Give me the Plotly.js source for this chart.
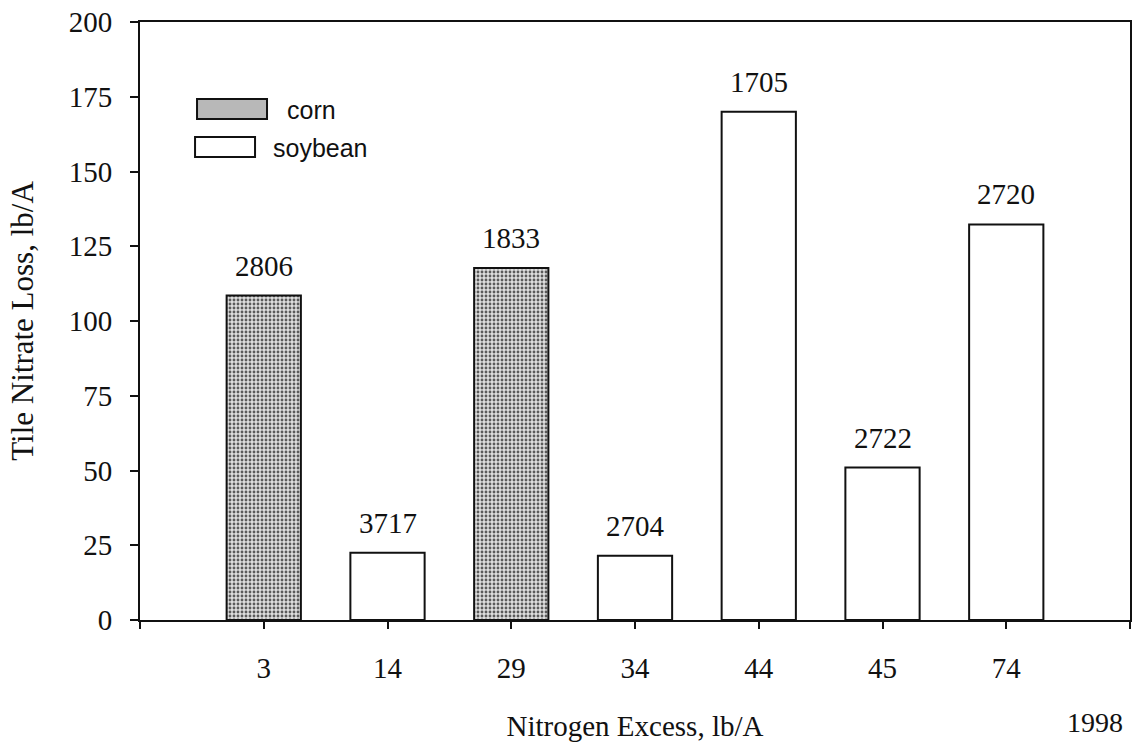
<!DOCTYPE html>
<html>
<head>
<meta charset="utf-8">
<script src="https://cdn.plot.ly/plotly-3.0.1.min.js"></script>
<style>
  html, body { margin: 0; padding: 0; background: #fff; }
  #chart { width: 1135px; height: 742px; }
</style>
</head>
<body>
<div id="chart"></div>
<script>
// Data
const categories = ['3', '14', '29', '34', '44', '45', '74'];
const crops = ['corn', 'soybean', 'corn', 'soybean', 'soybean', 'soybean', 'soybean'];
const nitrateLoss = [108.5, 22.5, 117.7, 21.5, 170, 51, 132.3];
const barLabels = ['2806', '3717', '1833', '2704', '1705', '2722', '2720'];
const seriesNames = ['corn', 'soybean'];
const yearLabel = '1998';

const positions = categories.map((_, i) => i);
const serif = 'Liberation Serif, Times New Roman, serif';
const sans = 'Liberation Sans, Arial, sans-serif';

const styles = {
  corn: {
    color: '#c8c8c8',
    line: { color: '#111', width: 2 },
    pattern: { shape: '.', fgcolor: '#5a5a5a', bgcolor: '#dedede', size: 4, solidity: 0.4 }
  },
  soybean: {
    color: '#ffffff',
    line: { color: '#111', width: 2 }
  }
};

const traces = seriesNames.map(name => {
  const idx = positions.filter(i => crops[i] === name);
  return {
    type: 'bar',
    name: name,
    x: idx,
    y: idx.map(i => nitrateLoss[i]),
    width: 0.6,
    marker: styles[name],
    showlegend: false,
    hoverinfo: 'x+y'
  };
});

const annotations = positions.map(i => ({
  x: i, y: nitrateLoss[i], xref: 'x', yref: 'y',
  text: barLabels[i], showarrow: false,
  yanchor: 'bottom', yshift: 12,
  font: { family: serif, size: 29, color: '#111' }
}));

// Legend text
annotations.push({
  xref: 'paper', yref: 'paper', x: 0.1465, y: 0.853, xanchor: 'left', yanchor: 'middle',
  text: seriesNames[0], showarrow: false, font: { family: sans, size: 25, color: '#111' }
});
annotations.push({
  xref: 'paper', yref: 'paper', x: 0.1323, y: 0.789, xanchor: 'left', yanchor: 'middle',
  text: seriesNames[1], showarrow: false, font: { family: sans, size: 25, color: '#111' }
});
// Year
annotations.push({
  xref: 'paper', yref: 'paper', x: 0.9646, y: -0.1706, xanchor: 'center', yanchor: 'middle',
  text: yearLabel, showarrow: false, font: { family: serif, size: 28, color: '#111' }
});

const shapes = [
  { type: 'rect', xref: 'paper', yref: 'paper', x0: 0.0576, x1: 0.1283, y0: 0.8378, y1: 0.8712,
    fillcolor: '#b8b8b8', line: { color: '#111', width: 2 } },
  { type: 'rect', xref: 'paper', yref: 'paper', x0: 0.0556, x1: 0.1162, y0: 0.7742, y1: 0.8077,
    fillcolor: '#ffffff', line: { color: '#111', width: 2 } }
];

const layout = {
  width: 1135, height: 742,
  margin: { l: 140, r: 5, t: 22, b: 122 },
  paper_bgcolor: '#fff', plot_bgcolor: '#fff',
  showlegend: false,
  bargap: 0.4,
  font: { family: serif, color: '#111' },
  xaxis: {
    range: [-1, 7],
    tickmode: 'array',
    tickvals: [-1].concat(positions, [categories.length]),
    ticktext: [''].concat(categories, ['']),
    ticks: 'outside', ticklen: 7, tickwidth: 2, tickcolor: '#111',
    showline: true, linewidth: 2, linecolor: '#111', mirror: true,
    showgrid: false, zeroline: false,
    ticklabelstandoff: 14,
    tickfont: { family: serif, size: 29, color: '#111' },
    title: { text: 'Nitrogen Excess, lb/A', font: { family: serif, size: 29, color: '#111' }, standoff: 34 },
    automargin: false
  },
  yaxis: {
    range: [0, 200],
    tickmode: 'linear', tick0: 0, dtick: 25,
    ticks: 'outside', ticklen: 8, tickwidth: 2, tickcolor: '#111',
    showline: true, linewidth: 2, linecolor: '#111', mirror: true,
    showgrid: false, zeroline: false,
    ticklabelstandoff: 12,
    tickfont: { family: serif, size: 29, color: '#111' },
    title: { text: 'Tile Nitrate Loss, lb/A', font: { family: serif, size: 31, color: '#111' }, standoff: 26 },
    automargin: false
  },
  annotations: annotations,
  shapes: shapes
};

Plotly.newPlot('chart', traces, layout, { displayModeBar: false, staticPlot: true });
</script>
</body>
</html>
